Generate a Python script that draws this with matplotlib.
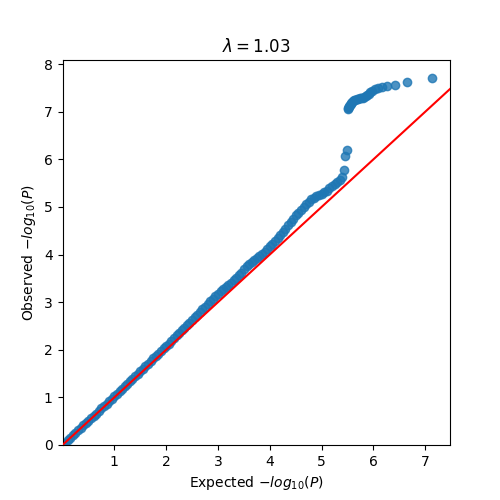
import matplotlib
matplotlib.use("Agg")
import matplotlib.pyplot as plt

LAMBDA_GC = 1.03

# main body of the QQ cloud (expected, observed)
expected_main = [
    0.00, 0.05, 0.10, 0.15, 0.20, 0.25, 0.30, 0.35, 0.40, 0.45,
    0.50, 0.55, 0.60, 0.65, 0.70, 0.75, 0.80, 0.85, 0.90, 0.95,
    1.00, 1.05, 1.10, 1.15, 1.20, 1.25, 1.30, 1.35, 1.40, 1.45,
    1.50, 1.55, 1.60, 1.65, 1.70, 1.75, 1.80, 1.85, 1.90, 1.95,
    2.00, 2.05, 2.10, 2.15, 2.20, 2.25, 2.30, 2.35, 2.40, 2.45,
    2.50, 2.55, 2.60, 2.65, 2.70, 2.75, 2.80, 2.85, 2.90, 2.95,
    3.00, 3.05, 3.10, 3.15, 3.20, 3.25, 3.30, 3.35, 3.40, 3.45,
    3.50, 3.55, 3.60, 3.65, 3.70, 3.75, 3.80, 3.85, 3.90, 3.95,
    4.00, 4.05, 4.10, 4.15, 4.20, 4.25, 4.30, 4.35, 4.40, 4.45,
    4.50, 4.55, 4.60, 4.65, 4.70, 4.75, 4.80, 4.85, 4.90, 4.95,
    5.00, 5.05, 5.10, 5.15, 5.20, 5.25, 5.30, 5.35, 5.40,
]
observed_main = [
    0.02, 0.05, 0.10, 0.15, 0.20, 0.25, 0.31, 0.36, 0.41, 0.46,
    0.51, 0.56, 0.61, 0.66, 0.71, 0.77, 0.82, 0.87, 0.92, 0.97,
    1.02, 1.07, 1.13, 1.18, 1.23, 1.29, 1.34, 1.39, 1.44, 1.50,
    1.55, 1.60, 1.66, 1.71, 1.76, 1.82, 1.87, 1.92, 1.97, 2.03,
    2.08, 2.13, 2.19, 2.24, 2.30, 2.35, 2.41, 2.46, 2.52, 2.57,
    2.63, 2.68, 2.74, 2.79, 2.85, 2.90, 2.96, 3.02, 3.07, 3.13,
    3.18, 3.23, 3.27, 3.32, 3.37, 3.41, 3.46, 3.51, 3.56, 3.62,
    3.69, 3.75, 3.80, 3.84, 3.88, 3.93, 3.97, 4.01, 4.06, 4.12,
    4.17, 4.23, 4.29, 4.34, 4.40, 4.47, 4.54, 4.61, 4.68, 4.75,
    4.82, 4.88, 4.94, 5.00, 5.06, 5.11, 5.16, 5.19, 5.22, 5.25,
    5.28, 5.31, 5.34, 5.39, 5.43, 5.48, 5.52, 5.57, 5.63,
]

# the few loose points and the top cluster
expected_top = [
    5.43, 5.45, 5.48,
    5.50, 5.51, 5.52, 5.53, 5.54, 5.56, 5.57, 5.59, 5.61, 5.63,
    5.65, 5.68, 5.70, 5.73, 5.76, 5.79, 5.82, 5.85, 5.88, 5.91,
    5.94, 5.98, 6.03, 6.08, 6.17, 6.27, 6.42, 6.64, 7.12,
]
observed_top = [
    5.77, 6.07, 6.19,
    7.05, 7.08, 7.10, 7.12, 7.14, 7.17, 7.19, 7.21, 7.22, 7.24,
    7.25, 7.26, 7.27, 7.28, 7.28, 7.29, 7.30, 7.32, 7.35, 7.38,
    7.41, 7.44, 7.47, 7.50, 7.52, 7.53, 7.56, 7.63, 7.70,
]

expected = expected_main + expected_top
observed = observed_main + observed_top

fig, ax = plt.subplots(figsize=(5, 5), dpi=100)

ax.scatter(expected, observed, color="#1f77b4", alpha=0.8, s=36, zorder=2)

xmax = max(expected) * 1.05
ymax = max(observed) * 1.05
ax.plot([0, xmax], [0, xmax], color="red", zorder=3)

ax.set_xlim(0, xmax)
ax.set_ylim(0, ymax)
ax.set_xticks([1, 2, 3, 4, 5, 6, 7])

ax.set_title(r"$\lambda = %.2f$" % LAMBDA_GC)
ax.set_xlabel(r"Expected $-log_{10}(P)$")
ax.set_ylabel(r"Observed $-log_{10}(P)$")

fig.savefig("out.png", dpi=100)
